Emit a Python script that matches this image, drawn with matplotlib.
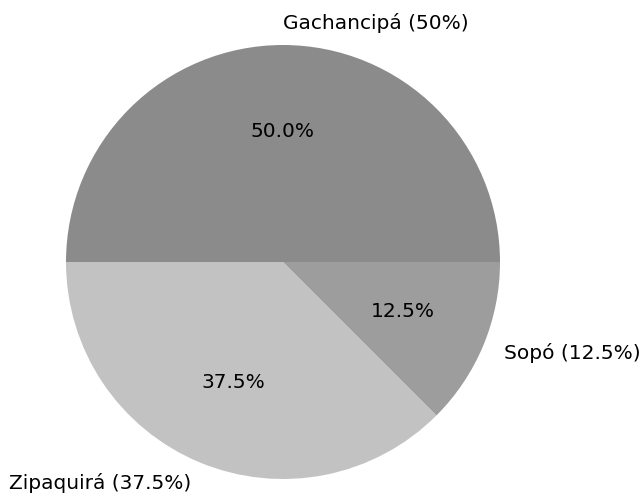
import matplotlib
matplotlib.use("Agg")
import matplotlib.pyplot as plt

labels = ["Gachancipá (50%)", "Zipaquirá (37.5%)", "Sopó (12.5%)"]
values = [50, 37.5, 12.5]
colors = ["#8b8b8b", "#c2c2c2", "#9d9d9d"]

W, H = 639, 494
cx, cy, r = 283, 262, 217

fig = plt.figure(figsize=(W / 100, H / 100), dpi=100)
ax = fig.add_axes([0, 0, 1, 1])
wedges, texts, autotexts = ax.pie(values, labels=labels, colors=colors,
                                  autopct="%1.1f%%", startangle=0,
                                  textprops={"fontsize": 14.5, "color": "black"})
texts[0].set_horizontalalignment("left")
ax.set_xlim(-cx / r, (W - cx) / r)
ax.set_ylim(-(H - cy) / r, cy / r)
ax.set_aspect("auto")
ax.axis("off")
fig.savefig("out.png", dpi=100, facecolor="white")
